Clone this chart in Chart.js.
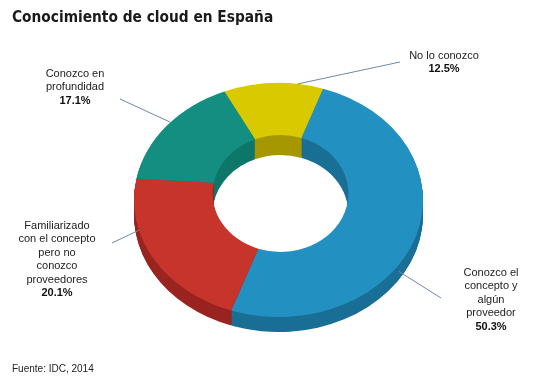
<!DOCTYPE html>
<html>
<head>
<meta charset="utf-8">
<script src="https://cdn.jsdelivr.net/npm/chart.js@4"></script>
<style>
  body { margin: 0; background: #fff; }
  #wrap { position: relative; width: 560px; height: 384px; }
  #title { position: absolute; left: 12px; top: 8px; font: bold 15.3px "DejaVu Sans Condensed", "DejaVu Sans", sans-serif; color: #1a1a1a; }
  #source { position: absolute; left: 12px; top: 363px; font: 10px "Liberation Sans", Arial, sans-serif; color: #222; }
</style>
</head>
<body>
<div id="wrap">
  <canvas id="myChart" width="560" height="384"></canvas>
  <div id="title">Conocimiento de cloud en España</div>
  <div id="source">Fuente: IDC, 2014</div>
</div>
<script>
const categories = [
    ["No lo conozco"],
    ["Conozco el", "concepto y", "algún", "proveedor"],
    ["Familiarizado", "con el concepto", "pero no", "conozco", "proveedores"],
    ["Conozco en", "profundidad"]
];
const values = [12.5, 50.3, 20.1, 17.1];
const colors = ["#d9c900", "#2290c0", "#c6342c", "#138e80"];
const sideColors = ["#a69700", "#1a6f96", "#9a2420", "#0e776a"];

// label placement: text centre x, first line y, leader line outer end, point along the slice
const labelX = [444, 491, 57, 75];
const labelY = [56, 273, 226, 74];
const lineEnd = [[400, 62], [441, 298], [112, 243], [120, 99]];
const lineFrac = [0.76, 0.53, 0.69, 0.5];

// fake perspective of the ring
const squash = 0.81;       // outer ellipse height / width
const innerSquash = 0.86;  // inner ellipse height / width
const innerShift = [2, -6.5];
const outerDepth = 15;
const innerDepth = 20;

const DEG = Math.PI / 180;
function warp(a) {
    const t = a + Math.PI / 2;
    return t - 5 * DEG * Math.sin(2 * t + 44 * DEG) - Math.PI / 2;
}

function ringPath(ctx, a, dyOut, dyIn) {
    const s = warp(a.startAngle), e = warp(a.endAngle);
    ctx.beginPath();
    ctx.ellipse(a.x, a.y + dyOut, a.outerRadius, a.outerRadius * squash, 0, s, e);
    ctx.ellipse(a.x + innerShift[0], a.y + innerShift[1] + dyIn, a.innerRadius, a.innerRadius * innerSquash, 0, e, s, true);
    ctx.closePath();
}

const ring3d = {
    id: "ring3d",
    beforeDatasetsDraw(chart) {
        const ctx = chart.ctx;
        const arcs = chart.getDatasetMeta(0).data.map(el =>
            el.getProps(["x", "y", "startAngle", "endAngle", "innerRadius", "outerRadius"]));
        ctx.save();
        for (let k = innerDepth; k >= 1; k--) {
            const t = k / innerDepth;
            arcs.forEach((a, i) => {
                ringPath(ctx, a, outerDepth * t, innerDepth * t);
                ctx.fillStyle = sideColors[i];
                ctx.fill();
            });
        }
        arcs.forEach((a, i) => {
            ringPath(ctx, a, 0, 0);
            ctx.fillStyle = colors[i];
            ctx.fill();
        });
        ctx.restore();
        return false;
    },
    afterDraw(chart) {
        const ctx = chart.ctx;
        const arcs = chart.getDatasetMeta(0).data;
        ctx.save();
        arcs.forEach((el, i) => {
            const a = el.getProps(["x", "y", "startAngle", "endAngle", "outerRadius"]);
            const ang = warp(a.startAngle + lineFrac[i] * (a.endAngle - a.startAngle));
            const px = a.x + Math.cos(ang) * a.outerRadius;
            const py = a.y + Math.sin(ang) * a.outerRadius * squash + (Math.sin(ang) > 0.3 ? outerDepth * 0.4 : 0);
            ctx.strokeStyle = "#7088a8";
            ctx.lineWidth = 1;
            ctx.beginPath();
            ctx.moveTo(lineEnd[i][0], lineEnd[i][1]);
            ctx.lineTo(px, py);
            ctx.stroke();

            ctx.textAlign = "center";
            ctx.textBaseline = "middle";
            const lines = categories[i];
            ctx.font = '11px "Liberation Sans", Arial, sans-serif';
            ctx.fillStyle = "#222";
            lines.forEach((t, k) => ctx.fillText(t, labelX[i], labelY[i] + k * 13.4));
            ctx.font = 'bold 11px "Liberation Sans", Arial, sans-serif';
            ctx.fillStyle = "#111";
            ctx.fillText(values[i].toFixed(1) + "%", labelX[i], labelY[i] + lines.length * 13.4);
        });
        ctx.restore();
    }
};

new Chart("myChart", {
    type: "doughnut",
    data: {
        labels: categories.map(c => c.join(" ")),
        datasets: [{
            data: values,
            backgroundColor: colors,
            borderWidth: 0
        }]
    },
    options: {
        responsive: false,
        animation: false,
        events: [],
        rotation: -22,
        cutout: "47%",
        layout: { padding: { left: 134, right: 137, top: 55.5, bottom: 39.5 } },
        plugins: {
            legend: { display: false },
            tooltip: { enabled: false }
        }
    },
    plugins: [ring3d]
});
</script>
</body>
</html>
